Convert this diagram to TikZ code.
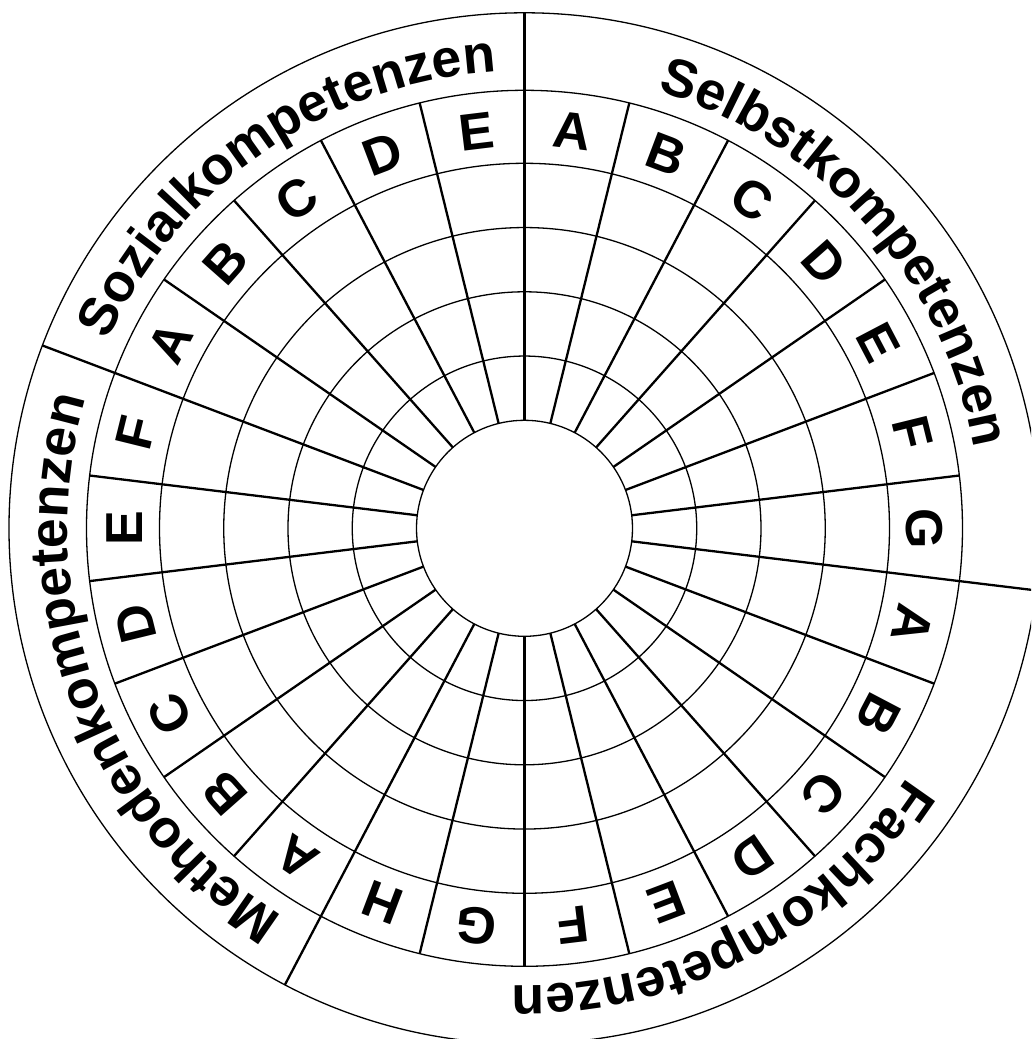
\documentclass[tikz,border=0pt]{standalone}
\usepackage{fontspec}
\setmainfont{Liberation Sans}
\usetikzlibrary{decorations.text}
\newcommand\wheelletterfont{\bfseries\fontsize{52}{52}\selectfont}
\newcommand\wheelgroupfont{\bfseries\fontsize{53.5}{53.5}\selectfont}
\begin{document}
\begin{tikzpicture}[x=1pt,y=1pt,
  ring/.style={line width=1.3pt},
  spoke/.style={line width=2.3pt},
  letter/.style={font=\wheelletterfont, inner sep=0pt},
  grouptext/.style={decorate, decoration={text along path, text align=center, text={|\wheelgroupfont|#1}}}]
\def\D{13.846153846}
\useasboundingbox (-524.5,-510.7) rectangle (506.5,528.3);
\fill[white] (-524.5,-510.7) rectangle (506.5,528.3);
\clip (-524.5,-510.7) rectangle (506.5,528.3);
% rings
\foreach \r in {108,172.25,236.5,300.75,365,438,515.5}
  \draw[ring] (0,0) circle[radius=\r];
% spokes
\foreach \k in {0,...,25}
  \draw[spoke] ({90-\k*\D}:108) -- ({90-\k*\D}:438);
% group boundaries in the outer ring
\foreach \k in {0,7,15,21}
  \draw[spoke] ({90-\k*\D}:438) -- ({90-\k*\D}:515.5);
% letters
\foreach \l [count=\i from 0] in {A,B,C,D,E,F,G,A,B,C,D,E,F,G,H,A,B,C,D,E,F,A,B,C,D,E}
  \node[letter, rotate={-(\i+0.5)*\D}] (L\i) at ({90-(\i+0.5)*\D}:400) {\l};
% group labels
\path[grouptext=Selbstkompetenzen] (90:457) arc[start angle=90, end angle={90-7*\D}, radius=457];
\path[grouptext=Fachkompetenzen] ({90-7*\D}:457) arc[start angle={90-7*\D}, end angle={90-15*\D}, radius=457];
\path[grouptext=Methodenkompetenzen] ({90-15*\D}:457) arc[start angle={90-15*\D}, end angle={90-21*\D}, radius=457];
\path[grouptext=Sozialkompetenzen] ({90-21*\D}:457) arc[start angle={90-21*\D}, end angle={90-26*\D}, radius=457];
\end{tikzpicture}
\end{document}
